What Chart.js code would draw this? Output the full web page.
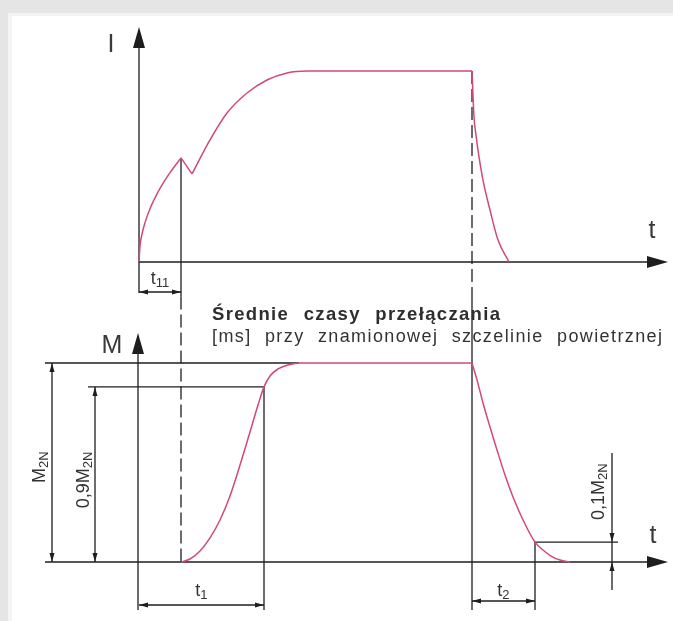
<!DOCTYPE html>
<html>
<head>
<meta charset="utf-8">
<style>
  html, body { margin: 0; padding: 0; background: #ffffff; }
  #wrap { position: absolute; left: 0; top: 0; width: 673px; height: 621px; }
</style>
<script src="https://cdn.jsdelivr.net/npm/chart.js@4.4.1/dist/chart.umd.min.js"></script>
</head>
<body>
<div id="wrap"><canvas id="c" width="673" height="621"></canvas></div>
<script>
// ---- data (time in arbitrary ms units, values normalised) ----
const timeI    = [0, 0.25, 0.75, 1.5, 2.75, 5.25, 7.75, 10.5, 13.25, 17.75, 22, 27, 32, 37, 42, 83.25, 83.75, 84.25, 84.75, 86, 87.75, 89.75, 92.5];
const currentI = [0, 0.084, 0.146, 0.206, 0.279, 0.385, 0.468, 0.545, 0.461, 0.639, 0.780, 0.885, 0.953, 0.990, 1, 1, 0.759, 0.665, 0.586, 0.429, 0.272, 0.115, 0];
const cornersI = [7, 8, 15];

const timeM    = [10.5, 12.75, 15.25, 17.75, 20.25, 22.75, 25.25, 27.75, 29.75, 31.25, 32.75, 34.75, 37.25, 40.25, 83.25, 84.5, 86, 87.75, 89.5, 91.5, 93.5, 96.25, 99, 101, 103, 105.25, 107.75];
const torqueM  = [0, 0.015, 0.055, 0.121, 0.211, 0.332, 0.487, 0.653, 0.789, 0.88, 0.935, 0.970, 0.990, 1, 1, 0.915, 0.799, 0.678, 0.563, 0.437, 0.327, 0.201, 0.1, 0.060, 0.030, 0.010, 0];
const cornersM = [14];

const switchTimes  = [10.5, 31.25, 83.25, 99];   // t11 end, t1 end, t2 start, t2 end
const torqueLevels = [1, 0.88, 0.1];             // M2N, 0.9 M2N, 0.1 M2N (as drawn)
const axisLabels   = ['I', 't', 'M', 't'];
const timeLabels   = [['t', '11'], ['t', '1'], ['t', '2']];
const levelLabels  = [['M', '2N'], ['0,9M', '2N'], ['0,1M', '2N']];
const noteLines    = ['Średnie czasy przełączania', '[ms] przy znamionowej szczelinie powietrznej'];

// ---- helpers ----
function split(ts, vs, corners) {
  const cuts = [0, ...corners, ts.length - 1];
  const out = [];
  for (let k = 0; k < cuts.length - 1; k++) {
    const pts = [];
    for (let i = cuts[k]; i <= cuts[k + 1]; i++) pts.push({ x: ts[i], y: vs[i] });
    out.push(pts);
  }
  return out;
}
const PINK = '#d4477d';
const INK = '#1e1e1e';
const TXT = '#333333';
const FONT = "'Liberation Sans', Arial, Helvetica, sans-serif";

const datasets = [];
split(timeI, currentI, cornersI).forEach((pts, i) => datasets.push({ label: 'I' + i, data: pts, yAxisID: 'yI' }));
split(timeM, torqueM, cornersM).forEach((pts, i) => datasets.push({ label: 'M' + i, data: pts, yAxisID: 'yM' }));

function arrow(c, x, y, dx, dy, len, hw) {
  c.beginPath();
  c.moveTo(x, y);
  c.lineTo(x - dx * len - dy * hw, y - dy * len + dx * hw);
  c.lineTo(x - dx * len + dy * hw, y - dy * len - dx * hw);
  c.closePath();
  c.fill();
}
function seg(c, x1, y1, x2, y2, dash) {
  c.setLineDash(dash || []);
  c.beginPath(); c.moveTo(x1, y1); c.lineTo(x2, y2); c.stroke();
  c.setLineDash([]);
}
function subText(c, main, sub, x, y, size, subSize, align) {
  c.font = size + 'px ' + FONT;
  const w1 = c.measureText(main).width;
  c.font = subSize + 'px ' + FONT;
  const w2 = c.measureText(sub).width;
  let x0 = x;
  if (align === 'center') x0 = x - (w1 + w2) / 2;
  c.textAlign = 'left';
  c.font = size + 'px ' + FONT;
  c.fillText(main, x0, y);
  c.font = subSize + 'px ' + FONT;
  c.fillText(sub, x0 + w1, y + size * 0.18);
}
function fitText(c, txt, x, y, target, font, ws) {
  c.font = font;
  c.textAlign = 'left';
  const hasLS = ('letterSpacing' in c);
  if ('wordSpacing' in c) c.wordSpacing = ws + 'px';
  if (hasLS) {
    c.letterSpacing = '0px';
    const w = c.measureText(txt).width;
    c.letterSpacing = Math.max(0, (target - w) / (txt.length - 1)) + 'px';
    c.fillText(txt, x, y);
    c.letterSpacing = '0px';
  } else {
    const w = c.measureText(txt).width;
    c.save(); c.translate(x, y); c.scale(target / w, 1); c.fillText(txt, 0, 0); c.restore();
  }
  if ('wordSpacing' in c) c.wordSpacing = '0px';
}

const diagram = {
  id: 'diagram',
  beforeDraw(chart) {
    const c = chart.ctx, W = chart.width, H = chart.height;
    c.save();
    c.fillStyle = '#ffffff'; c.fillRect(0, 0, W, H);
    c.fillStyle = '#e5e5e5'; c.fillRect(0, 0, W, 13); c.fillRect(0, 0, 8, H);
    c.fillStyle = '#f4f4f4'; c.fillRect(8, 13, 4, H - 13); c.fillRect(8, 13, W - 8, 3);
    c.restore();
  },
  beforeDatasetsDraw(chart) {
    const c = chart.ctx, s = chart.scales;
    const X = t => s.x.getPixelForValue(t);
    const YI = v => s.yI.getPixelForValue(v);
    const YM = v => s.yM.getPixelForValue(v);
    const [tA, t1, tB, t2] = switchTimes;
    const [mFull, m09, m01] = torqueLevels;
    c.save();
    c.strokeStyle = INK; c.fillStyle = INK; c.lineWidth = 1.3; c.lineCap = 'butt';

    // ---- top diagram (current) ----
    seg(c, X(0), YI(-0.162), X(0), YI(1.12));
    arrow(c, X(0), YI(1.2304), 0, -1, 21, 6);
    seg(c, X(0), YI(0), X(127), YI(0));
    arrow(c, X(132.25), YI(0), 1, 0, 21, 6);
    // t11
    seg(c, X(tA), YI(currentI[7]), X(tA), YI(-0.18));
    seg(c, X(tA), YI(-0.18), X(tA), YM(0), [13, 5]);
    seg(c, X(0), YI(-0.157), X(tA), YI(-0.157));
    arrow(c, X(0), YI(-0.157), -1, 0, 9, 2.5);
    arrow(c, X(tA), YI(-0.157), 1, 0, 9, 2.5);
    // switch-off line
    seg(c, X(tB), YI(1), X(tB), YM(1.3668), [13, 5]);
    seg(c, X(tB), YM(1.3668), X(tB), YM(-0.241));

    // ---- bottom diagram (torque) ----
    seg(c, X(0) - 1, YM(-0.241), X(0) - 1, YM(1.05));
    arrow(c, X(0) - 1, YM(1.1508), 0, -1, 21, 6);
    seg(c, X(-23.5), YM(0), X(127), YM(0));
    arrow(c, X(132.25), YM(0), 1, 0, 21, 6);
    // levels
    seg(c, X(-23.5), YM(mFull), X(40), YM(mFull));
    seg(c, X(-12.75), YM(m09), X(t1), YM(m09));
    seg(c, X(t1), YM(m09), X(t1), YM(-0.241));
    // M2N dimension
    seg(c, X(-21.75), YM(mFull), X(-21.75), YM(0));
    arrow(c, X(-21.75), YM(mFull), 0, -1, 9, 2.5);
    arrow(c, X(-21.75), YM(0), 0, 1, 9, 2.5);
    // 0.9 M2N dimension
    seg(c, X(-11), YM(m09), X(-11), YM(0));
    arrow(c, X(-11), YM(m09), 0, -1, 9, 2.5);
    arrow(c, X(-11), YM(0), 0, 1, 9, 2.5);
    // t1 bracket
    seg(c, X(0), YM(-0.216), X(t1), YM(-0.216));
    arrow(c, X(0), YM(-0.216), -1, 0, 9, 2.5);
    arrow(c, X(t1), YM(-0.216), 1, 0, 9, 2.5);
    // t2 bracket
    seg(c, X(t2), YM(m01), X(t2), YM(-0.241));
    seg(c, X(tB), YM(-0.196), X(t2), YM(-0.196));
    arrow(c, X(tB), YM(-0.196), -1, 0, 9, 2.5);
    arrow(c, X(t2), YM(-0.196), 1, 0, 9, 2.5);
    // 0.1 M2N
    seg(c, X(t2), YM(m01), X(119.75), YM(m01));
    seg(c, X(118.25), YM(0.548), X(118.25), YM(-0.141));
    arrow(c, X(118.25), YM(m01), 0, 1, 9, 2.5);
    arrow(c, X(118.25), YM(0), 0, -1, 9, 2.5);
    c.restore();
  },
  afterDatasetsDraw(chart) {
    const c = chart.ctx, s = chart.scales;
    const X = t => s.x.getPixelForValue(t);
    const YI = v => s.yI.getPixelForValue(v);
    const YM = v => s.yM.getPixelForValue(v);
    c.save();
    c.fillStyle = '#3a3a3a';
    c.textBaseline = 'alphabetic';
    c.textAlign = 'center';
    c.font = '25px ' + FONT;
    c.fillText(axisLabels[0], X(-7), YI(1.1));
    c.fillText(axisLabels[1], X(128.25), YI(0.126));
    c.fillText(axisLabels[2], X(-6.75), YM(1.05));
    c.fillText(axisLabels[3], X(128.5), YM(0.095));

    c.fillStyle = TXT;
    subText(c, timeLabels[0][0], timeLabels[0][1], X(5.25), YI(-0.115), 18, 13, 'center');
    subText(c, timeLabels[1][0], timeLabels[1][1], X(15.6), YM(-0.17), 18, 13, 'center');
    subText(c, timeLabels[2][0], timeLabels[2][1], X(91.1), YM(-0.17), 18, 13, 'center');

    // rotated level labels
    const rot = (lbl, xPix, yStart) => {
      c.save(); c.translate(xPix, yStart); c.rotate(-Math.PI / 2);
      subText(c, lbl[0], lbl[1], 0, 0, 18, 13, 'left');
      c.restore();
    };
    rot(levelLabels[0], X(-23.6), YM(0.397));
    rot(levelLabels[1], X(-12.6), YM(0.27));
    rot(levelLabels[2], X(116.2), YM(0.211));

    // note text
    c.fillStyle = '#2e2e2e';
    fitText(c, noteLines[0], X(18.25), YM(1.216), 288, 'bold 18.5px ' + FONT, 8);
    c.fillStyle = TXT;
    fitText(c, noteLines[1], X(18.25), YM(1.1055), 450, '18px ' + FONT, 7);
    c.restore();
  }
};

new Chart(document.getElementById('c'), {
  type: 'line',
  data: { datasets },
  options: {
    responsive: false,
    animation: false,
    devicePixelRatio: 1,
    layout: { padding: 0 },
    events: [],
    plugins: { legend: { display: false }, tooltip: { enabled: false } },
    elements: {
      point: { radius: 0 },
      line: { borderWidth: 1.5, borderColor: PINK, cubicInterpolationMode: 'monotone', fill: false }
    },
    scales: {
      x:  { type: 'linear', display: false, min: -34.75, max: 133.5 },
      yI: { type: 'linear', display: false, min: -1.8796, max: 1.3717 },
      yM: { type: 'linear', display: false, min: -0.2965, max: 2.8241 }
    }
  },
  plugins: [diagram]
});
</script>
</body>
</html>
